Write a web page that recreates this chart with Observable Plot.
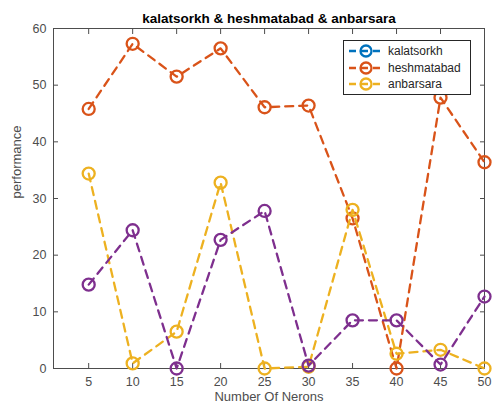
<!DOCTYPE html>
<html><head><meta charset="utf-8">
<script src="https://cdn.jsdelivr.net/npm/d3@7"></script>
<script src="https://cdn.jsdelivr.net/npm/@observablehq/plot@0.6"></script>
<style>
body{margin:0;background:#fff;font-family:"Liberation Sans",Arial,sans-serif;}
#wrap{position:relative;width:493px;height:412px;}
#legend{position:absolute;left:343px;top:40px;width:128px;height:55px;border:1px solid #262626;background:#fff;box-sizing:border-box;font-size:12px;color:#262626;padding-top:2px;}
#legend .row{display:flex;align-items:center;height:16.5px;}
#legend svg{margin-left:3px;margin-right:3px;}
</style></head>
<body><div id="wrap"><div id="legend"></div></div>
<script>
const neurons = [5,10,15,20,25,30,35,40,45,50];
const kalatsorkh = [];
const heshmatabad = [45.8,57.3,51.5,56.5,46.1,46.4,26.5,0,47.8,36.4];
const anbarsara = [34.4,0.9,6.5,32.8,0,0.3,28,2.6,3.3,0];
const series4 = [14.8,24.4,0,22.7,27.8,0.5,8.5,8.5,0.7,12.7];
const legendNames = ["kalatsorkh","heshmatabad","anbarsara"];
const colors = ["#0072BD","#D95319","#EDB120","#7E2F8E"];
const yTicks = [0,10,20,30,40,50,60];

const seriesList = [kalatsorkh, heshmatabad, anbarsara, series4];
const data = [];
seriesList.forEach((s,i)=>s.forEach((v,j)=>data.push({x:neurons[j], y:v, s:i})));

const marks = [];
for (let i = 0; i < seriesList.length; i++) {
  const d = data.filter(p=>p.s===i);
  if (!d.length) continue;
  marks.push(Plot.line(d,{x:"x",y:"y",stroke:colors[i],strokeWidth:2.3,strokeDasharray:"8,6"}));
  marks.push(Plot.dot(d,{x:"x",y:"y",r:6,stroke:colors[i],strokeWidth:2.3,fill:"none"}));
}
const blank = () => "";

const chart = Plot.plot({
  width:493, height:412,
  marginLeft:53, marginRight:9, marginTop:28, marginBottom:44,
  style:{fontFamily:"Liberation Sans, Arial, sans-serif", fontSize:"12.5px", color:"#4d4d4d", background:"#fff"},
  x:{domain:[1,50]},
  y:{domain:[0,60]},
  marks:[
    Plot.frame({stroke:"#4d4d4d", strokeWidth:1}),
    Plot.axisX(neurons,{anchor:"bottom", tickSize:-5, tickPadding:14, label:null, fontSize:12.5}),
    Plot.axisX(neurons,{anchor:"top", tickSize:-5, tickFormat:blank, label:null}),
    Plot.axisY(yTicks,{anchor:"left", tickSize:-5, tickPadding:12, label:null, fontSize:12.5}),
    Plot.axisY(yTicks,{anchor:"right", tickSize:-5, tickFormat:blank, label:null}),
    ...marks,
    Plot.text(["kalatsorkh & heshmatabad & anbarsara"],{frameAnchor:"top", dy:-15, fontWeight:"bold", fontSize:13.5, fill:"#000"}),
    Plot.text(["Number Of Nerons"],{frameAnchor:"bottom", dy:32, fontSize:13, fill:"#4d4d4d"}),
    Plot.text(["performance"],{frameAnchor:"left", dx:-37, rotate:-90, fontSize:13, fill:"#4d4d4d"})
  ]
});
document.getElementById("wrap").prepend(chart);

const leg = d3.select("#legend");
legendNames.forEach((n,i)=>{
  const row = leg.append("div").attr("class","row");
  const svg = row.append("svg").attr("width",38).attr("height",16);
  svg.append("line").attr("x1",2).attr("x2",36).attr("y1",8).attr("y2",8)
    .attr("stroke",colors[i]).attr("stroke-width",2.3).attr("stroke-dasharray","7,5");
  svg.append("circle").attr("cx",19).attr("cy",8).attr("r",5.5)
    .attr("fill","none").attr("stroke",colors[i]).attr("stroke-width",2.3);
  row.append("span").text(n);
});
</script></body></html>
